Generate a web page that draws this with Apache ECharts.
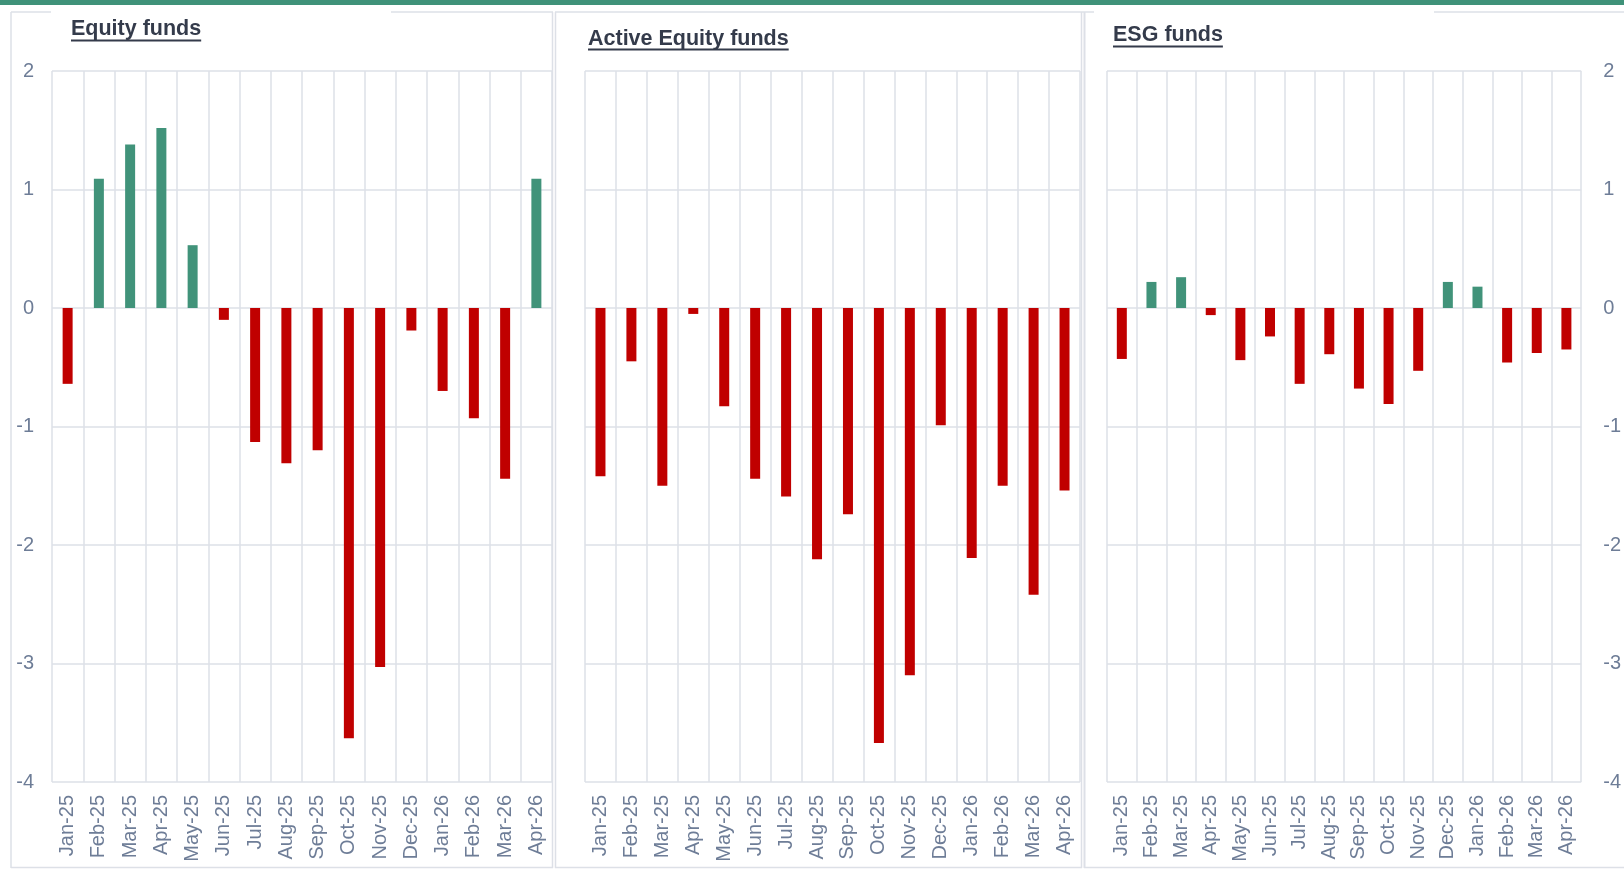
<!DOCTYPE html>
<html>
<head>
<meta charset="utf-8">
<script src="https://cdn.jsdelivr.net/npm/echarts@6/dist/echarts.min.js"></script>
<style>
  html, body { margin: 0; padding: 0; background: #fff; }
  #chart { width: 1624px; height: 869px; }
</style>
</head>
<body>
<div id="chart"></div>
<script>
const months = ['Jan-25', 'Feb-25', 'Mar-25', 'Apr-25', 'May-25', 'Jun-25', 'Jul-25', 'Aug-25',
  'Sep-25', 'Oct-25', 'Nov-25', 'Dec-25', 'Jan-26', 'Feb-26', 'Mar-26', 'Apr-26']

const equityFunds = [-0.64, 1.09, 1.38, 1.52, 0.53, -0.10, -1.13, -1.31,
  -1.20, -3.63, -3.03, -0.19, -0.70, -0.93, -1.44, 1.09]
const activeEquityFunds = [-1.42, -0.45, -1.50, -0.05, -0.83, -1.44, -1.59, -2.12,
  -1.74, -3.67, -3.10, -0.99, -2.11, -1.50, -2.42, -1.54]
const esgFunds = [-0.43, 0.22, 0.26, -0.06, -0.44, -0.24, -0.64, -0.39,
  -0.68, -0.81, -0.53, 0.22, 0.18, -0.46, -0.38, -0.35]

const panelTitles = ['Equity funds', 'Active Equity funds', 'ESG funds']
const yTicks = { min: -4, max: 2, interval: 1 }

const GREEN = '#41937a'
const RED = '#c00000'
const GRID_LINE = '#dde0e7'
const LABEL = '#6e7d97'
const TITLE = '#343b4b'
const FONT = '"Liberation Sans", Arial, sans-serif'
const TITLE_FONT = 'bold 21.5px ' + FONT

const grids = [
  { left: 52, top: 71, width: 500, height: 711 },
  { left: 585, top: 71, width: 495, height: 711 },
  { left: 1107, top: 71, width: 476, height: 711 },
]

// title placement: x, vertical middle, underline y
const titlePos = [
  [71, 29.5, 40.5],
  [588, 39, 49.5],
  [1113, 35, 46.5],
]

function textWidth(text, font) {
  const ctx = document.createElement('canvas').getContext('2d')
  ctx.font = font
  return ctx.measureText(text).width
}

function buildTitles() {
  const out = []
  panelTitles.forEach((t, i) => {
    const [x, y, uy] = titlePos[i]
    out.push({
      type: 'text',
      style: { text: t, x, y, font: TITLE_FONT, fill: TITLE, textVerticalAlign: 'middle' },
    })
    out.push({
      type: 'line',
      shape: { x1: x, y1: uy, x2: x + textWidth(t, TITLE_FONT), y2: uy },
      style: { stroke: TITLE, lineWidth: 2.2 },
    })
  })
  return out
}

function frameLine(x1, y1, x2, y2, w) {
  return { type: 'line', shape: { x1, y1, x2, y2 }, style: { stroke: GRID_LINE, lineWidth: w || 1.5 } }
}

function buildFrames() {
  return [
    { type: 'rect', shape: { x: 0, y: 0, width: 1624, height: 5 }, style: { fill: '#3f9279' } },
    // panel 1
    frameLine(11, 12, 11, 868),
    frameLine(11, 12, 51, 12),
    frameLine(391, 12, 553, 12),
    frameLine(552.5, 12, 552.5, 868),
    frameLine(11, 867.5, 553, 867.5),
    // panel 2
    frameLine(555.5, 12, 555.5, 868),
    frameLine(555, 12, 1094, 12),
    frameLine(1081.5, 12, 1081.5, 868),
    frameLine(555, 867.5, 1082, 867.5),
    // panel 3
    frameLine(1084.5, 12, 1084.5, 868, 2),
    frameLine(1434, 12, 1624, 12),
    frameLine(1084, 867.5, 1624, 867.5),
  ]
}

function barColor(p) {
  return p.value >= 0 ? GREEN : RED
}

const seriesData = [equityFunds, activeEquityFunds, esgFunds]

const option = {
  animation: false,
  backgroundColor: '#fff',
  textStyle: { fontFamily: FONT },
  grid: grids,
  xAxis: grids.map((g, i) => ({
    type: 'category',
    gridIndex: i,
    data: months,
    boundaryGap: true,
    axisLine: { show: false },
    axisTick: { show: false },
    axisLabel: { rotate: 90, margin: 13, color: LABEL, fontSize: 20, interval: 0, fontFamily: FONT },
    splitLine: { show: true, interval: 0, lineStyle: { color: GRID_LINE, width: 1.5 } },
  })),
  yAxis: grids.map((g, i) => ({
    type: 'value',
    gridIndex: i,
    min: yTicks.min,
    max: yTicks.max,
    interval: yTicks.interval,
    position: i === 2 ? 'right' : 'left',
    axisLine: { show: false },
    axisTick: { show: false },
    axisLabel: {
      show: i !== 1,
      color: LABEL,
      fontSize: 20,
      fontFamily: FONT,
      margin: i === 2 ? 22 : 18,
    },
    splitLine: { show: true, lineStyle: { color: GRID_LINE, width: 1.5 } },
  })),
  series: seriesData.map((d, i) => ({
    name: panelTitles[i],
    type: 'bar',
    xAxisIndex: i,
    yAxisIndex: i,
    data: d,
    barWidth: 10,
    itemStyle: { color: barColor },
  })),
  graphic: buildFrames().concat(buildTitles()),
}

const chart = echarts.init(document.getElementById('chart'), null, { renderer: 'canvas' })
chart.setOption(option)
</script>
</body>
</html>
